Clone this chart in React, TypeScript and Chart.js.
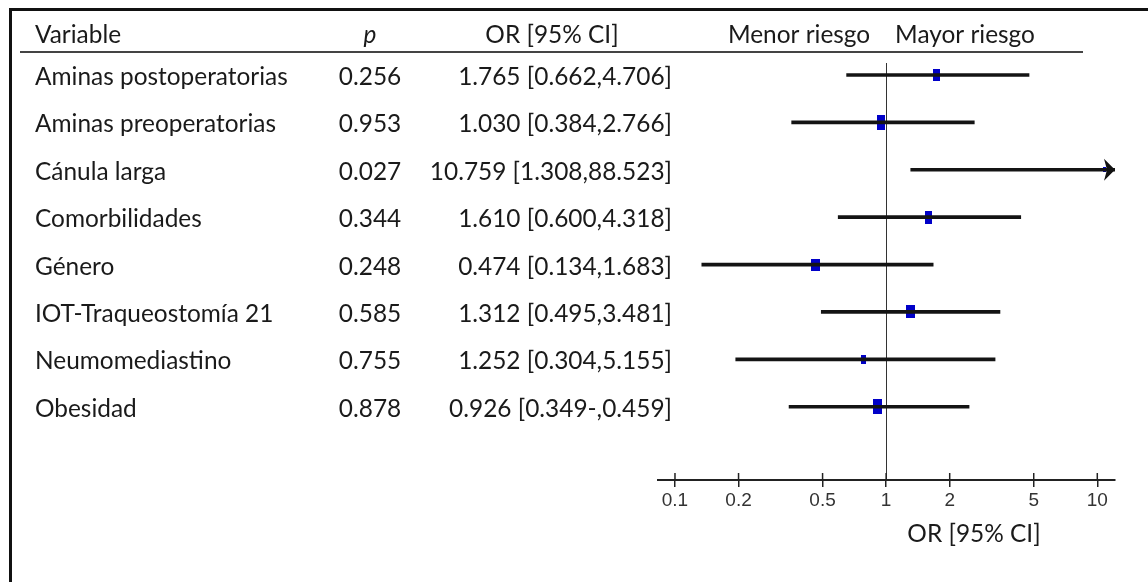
import React, { useEffect, useRef } from "react";
import { Chart, registerables } from "chart.js";

Chart.register(...registerables);

// ---- data ----
const variables = [
  "Aminas postoperatorias",
  "Aminas preoperatorias",
  "Cánula larga",
  "Comorbilidades",
  "Género",
  "IOT-Traqueostomía 21",
  "Neumomediastino",
  "Obesidad",
];
const pValues = ["0.256", "0.953", "0.027", "0.344", "0.248", "0.585", "0.755", "0.878"];
const orLabels = [
  "1.765 [0.662,4.706]",
  "1.030 [0.384,2.766]",
  "10.759 [1.308,88.523]",
  "1.610 [0.600,4.318]",
  "0.474 [0.134,1.683]",
  "1.312 [0.495,3.481]",
  "1.252 [0.304,5.155]",
  "0.926 [0.349-,0.459]",
];
// plotted values as drawn in the picture
const estimates = [1.735, 0.95, 10.759, 1.59, 0.465, 1.31, 0.785, 0.915];
const lowerCI = [0.65, 0.357, 1.308, 0.593, 0.134, 0.493, 0.194, 0.347];
const upperCI = [4.75, 2.615, 88.523, 4.34, 1.67, 3.46, 3.28, 2.47];

const tickValues = [0.1, 0.2, 0.5, 1, 2, 5, 10];
const tickLabels = ["0.1", "0.2", "0.5", "1", "2", "5", "10"];

const headerVariable = "Variable";
const headerP = "p";
const headerOR = "OR [95% CI]";
const headerLower = "Menor riesgo";
const headerHigher = "Mayor riesgo";
const axisTitle = "OR [95% CI]";

const FONT = "Lato, 'Open Sans', 'Noto Sans', sans-serif";
const TICK_FONT = "'Liberation Sans Narrow', 'Liberation Sans', Arial, sans-serif";

export default function App() {
  const canvasRef = useRef<HTMLCanvasElement | null>(null);

  useEffect(() => {
    const canvas = canvasRef.current;
    if (!canvas) return;

    const markerSizes = [
      [7, 12],
      [8, 15],
      [3, 5],
      [7, 13],
      [9, 12],
      [9, 13],
      [5, 9],
      [9, 15],
    ];
    const markerImgs = markerSizes.map(([w, h]) => {
      const c = document.createElement("canvas");
      c.width = w;
      c.height = h;
      const g = c.getContext("2d")!;
      g.fillStyle = "#0000c8";
      g.fillRect(0, 0, w, h);
      return c;
    });

    const forestPlugin = {
      id: "forest",
      beforeDatasetsDraw(chart: any) {
        const ctx = chart.ctx;
        const xs = chart.scales.x;
        const area = chart.chartArea;
        ctx.save();
        const x1 = Math.round(xs.getPixelForValue(1)) + 0.5;
        ctx.strokeStyle = "#333";
        ctx.lineWidth = 1;
        ctx.beginPath();
        ctx.moveTo(x1, 63);
        ctx.lineTo(x1, area.bottom);
        ctx.stroke();
        ctx.restore();
      },
      afterDraw(chart: any) {
        const ctx = chart.ctx;
        const xs = chart.scales.x;
        const ys = chart.scales.y;
        const area = chart.chartArea;
        ctx.save();

        // frame
        ctx.fillStyle = "#111";
        ctx.fillRect(9, 8, 1139, 3);
        ctx.fillRect(9, 8, 3, 574);

        // header rule
        ctx.fillStyle = "#444";
        ctx.fillRect(20, 51, 1063, 2);

        // upper halves of tick marks
        ctx.strokeStyle = "#222";
        ctx.lineWidth = 1.5;
        tickValues.forEach((v) => {
          const x = xs.getPixelForValue(v);
          ctx.beginPath();
          ctx.moveTo(x, area.bottom - 7);
          ctx.lineTo(x, area.bottom);
          ctx.stroke();
        });

        // arrows for truncated intervals
        ctx.fillStyle = "#111";
        upperCI.forEach((u, i) => {
          if (u > xs.max) {
            const y = ys.getPixelForValue(i + 1);
            const xr = area.right;
            ctx.beginPath();
            ctx.moveTo(xr, y);
            ctx.lineTo(xr - 11, y - 11);
            ctx.lineTo(xr - 8, y);
            ctx.lineTo(xr - 11, y + 11);
            ctx.closePath();
            ctx.fill();
          }
        });

        // text font sizing
        ctx.font = `100px ${FONT}`;
        const w100 = ctx.measureText(variables[0]).width;
        const fs = (100 * 253) / w100;
        const font = `${fs}px ${FONT}`;
        ctx.fillStyle = "#1a1a1a";
        ctx.textBaseline = "alphabetic";

        // header
        ctx.font = font;
        ctx.textAlign = "left";
        ctx.fillText(headerVariable, 35, 43);
        ctx.textAlign = "center";
        ctx.fillText(headerOR, 552, 43);
        ctx.fillText(headerLower, 799, 43);
        ctx.fillText(headerHigher, 965, 43);
        ctx.font = `italic ${fs}px ${FONT}`;
        ctx.fillText(headerP, 370, 43);

        // rows
        ctx.font = font;
        variables.forEach((name, i) => {
          const y = ys.getPixelForValue(i + 1) + 10;
          ctx.textAlign = "left";
          ctx.fillText(name, 35, y);
          ctx.textAlign = "center";
          ctx.fillText(pValues[i], 370, y);
          ctx.textAlign = "right";
          ctx.fillText(orLabels[i], 672, y);
        });

        // axis title
        ctx.textAlign = "center";
        ctx.fillText(axisTitle, 974, 542);

        ctx.restore();
      },
    };

    const chart = new Chart(canvas, {
      type: "bar",
      data: {
        datasets: [
          {
            type: "bar",
            indexAxis: "y",
            data: variables.map((_, i) => ({ x: [lowerCI[i], upperCI[i]], y: i + 1 })),
            backgroundColor: "#141414",
            borderWidth: 0,
            barThickness: 3,
            clip: 0,
          } as any,
          {
            type: "scatter",
            data: variables.map((_, i) => ({ x: estimates[i], y: i + 1 })),
            pointStyle: markerImgs as any,
            pointRadius: 4,
            clip: 0,
          } as any,
        ],
      },
      options: {
        animation: false,
        responsive: false,
        indexAxis: "y",
        layout: { padding: { left: 658, right: 33, top: 52, bottom: 52 } },
        plugins: { legend: { display: false }, tooltip: { enabled: false } },
        scales: {
          x: {
            type: "logarithmic",
            position: "bottom",
            min: 0.0831,
            max: 12.13,
            offset: false,
            afterBuildTicks: (axis: any) => {
              axis.ticks = tickValues.map((v) => ({ value: v }));
            },
            afterFit: (scale: any) => {
              scale.height = 50;
            },
            ticks: {
              autoSkip: false,
              maxRotation: 0,
              minRotation: 0,
              padding: 2,
              color: "#333",
              font: { family: TICK_FONT, size: 19 },
              callback: (_v: any, i: number) => tickLabels[i],
            },
            grid: {
              display: true,
              drawOnChartArea: false,
              drawTicks: true,
              tickLength: 7,
              color: "#222",
              lineWidth: 1.5,
              offset: false,
            },
            border: { display: true, color: "#222", width: 2 },
          },
          y: {
            type: "linear",
            display: false,
            reverse: true,
            offset: false,
            grid: { offset: false },
            min: 0.515,
            max: 9.546,
          },
        },
      } as any,
      plugins: [forestPlugin],
    });

    return () => chart.destroy();
  }, []);

  return (
    <div style={{ position: "absolute", left: 0, top: 0, width: 1148, height: 582, background: "#fff" }}>
      <canvas ref={canvasRef} width={1148} height={582} style={{ width: 1148, height: 582, display: "block" }} />
    </div>
  );
}
